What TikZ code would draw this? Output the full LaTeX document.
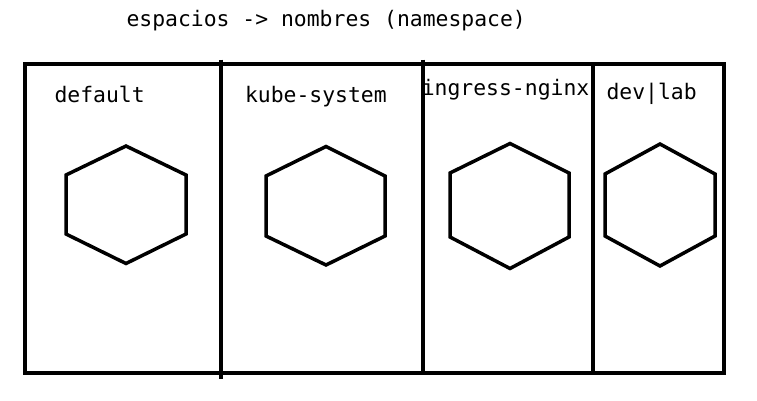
\documentclass[tikz,border=0pt]{standalone}
\usepackage{fontspec}
\newfontfamily\monofnt{DejaVu Sans Mono}
\tikzset{
  lbl/.style={inner sep=0pt, outer sep=0pt, anchor=base west, font=\monofnt\fontsize{21.4}{24}\selectfont},
  frame/.style={line width=4pt, line join=miter},
  divider/.style={line width=4pt},
  hexa/.style={line width=3.5pt, line join=miter}
}
\begin{document}
\begin{tikzpicture}[x=1pt,y=-1pt]
\useasboundingbox (0,0) rectangle (757,400);
% title
\node[lbl] (title) at (126.5,26.7) {espacios -> nombres (namespace)};
% frame
\draw[frame] (25.3,63.7) rectangle (724,373.3);
% dividers
\coordinate (d1t) at (221,59.5); \coordinate (d1b) at (221,379);
\coordinate (d2t) at (423,59.5); \coordinate (d2b) at (423,373.3);
\coordinate (d3t) at (593,63.7); \coordinate (d3b) at (593,373.3);
\draw[divider] (d1t) -- (d1b);
\draw[divider] (d2t) -- (d2b);
\draw[divider] (d3t) -- (d3b);
% labels
\node[lbl] (default) at (54.5,102.7) {default};
\node[lbl] (kube) at (245,102.7) {kube-system};
\node[lbl] (ingress) at (421.8,95) {ingress-nginx};
\node[lbl] (devlab) at (606.5,99.3) {dev|lab};
% hexagons
\draw[hexa] (126,146) -- (186,175) -- (186,234) -- (126,263.5) -- (66,234) -- (66,175) -- cycle;
\draw[hexa] (326,146.5) -- (385,176) -- (385,236) -- (326,265) -- (266,236) -- (266,176) -- cycle;
\draw[hexa] (510,143.5) -- (569,173) -- (569,237) -- (510,268.5) -- (450,237) -- (450,173) -- cycle;
\draw[hexa] (660,144) -- (715,174) -- (715,236) -- (660,266) -- (605,236) -- (605,174) -- cycle;
\end{tikzpicture}
\end{document}
